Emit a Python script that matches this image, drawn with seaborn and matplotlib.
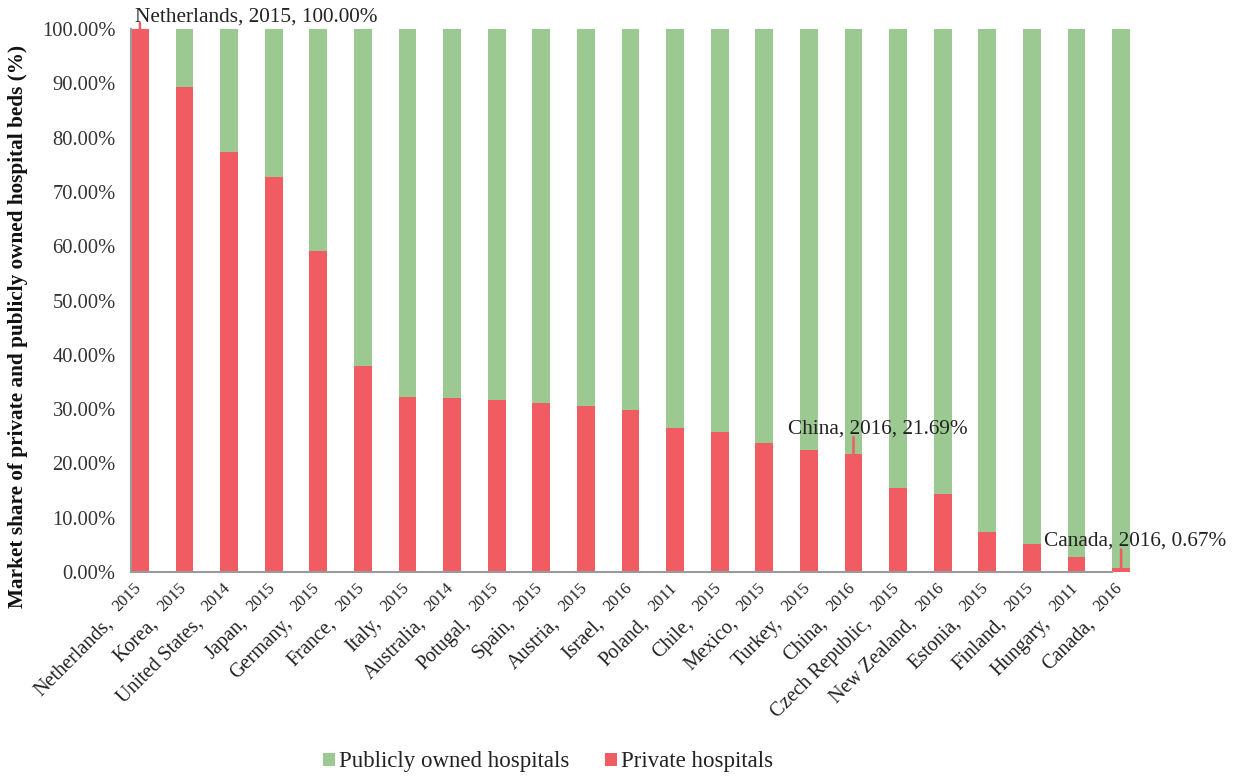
import matplotlib
matplotlib.use("Agg")
import matplotlib.pyplot as plt
from matplotlib.patches import Patch
import seaborn as sns
import pandas as pd

countries = ["Netherlands", "Korea", "United States", "Japan", "Germany", "France",
             "Italy", "Australia", "Potugal", "Spain", "Austria", "Israel", "Poland",
             "Chile", "Mexico", "Turkey", "China", "Czech Republic", "New Zealand",
             "Estonia", "Finland", "Hungary", "Canada"]
years = ["2015", "2015", "2014", "2015", "2015", "2015", "2015", "2014", "2015", "2015",
         "2015", "2016", "2011", "2015", "2015", "2015", "2016", "2015", "2016", "2015",
         "2015", "2011", "2016"]
private = [100.00, 89.4, 77.4, 72.8, 59.2, 37.9, 32.2, 32.0, 31.6, 31.2, 30.6, 29.8,
           26.6, 25.7, 23.7, 22.4, 21.69, 15.4, 14.3, 7.3, 5.2, 2.8, 0.67]
public = [0.00, 10.6, 22.6, 27.2, 40.8, 62.1, 67.8, 68.0, 68.4, 68.8, 69.4, 70.2,
          73.4, 74.3, 76.3, 77.6, 78.31, 84.6, 85.7, 92.7, 94.8, 97.2, 99.33]
yticks = [0, 10, 20, 30, 40, 50, 60, 70, 80, 90, 100]
# bars that carry a value label
labelled = [0, 16, 22]

GREEN = "#9bc991"
RED = "#f15c62"
GRAY = "#9a9a9a"

sns.set_style("white")
plt.rcParams["font.family"] = ["Liberation Serif", "DejaVu Serif"]

df = pd.DataFrame({"key": [f"{c}, {y}" for c, y in zip(countries, years)],
                   "private": private, "public": public})
df["total"] = df["private"] + df["public"]

fig = plt.figure(figsize=(12.35, 7.77), dpi=100)
ax = fig.add_axes([131 / 1235, 1 - 572 / 777, 22.5 * 44.6 / 1235, (572 - 29) / 777])

sns.barplot(data=df, x="key", y="total", color=GREEN, width=0.4, saturation=1,
            ax=ax, edgecolor="none")
sns.barplot(data=df, x="key", y="private", color=RED, width=0.4, saturation=1,
            ax=ax, edgecolor="none")

n = len(df)
ax.set_xlim(-0.2, 22.3)
ax.set_ylim(0, 100)
ax.set_yticks(yticks)
ax.set_yticklabels([f"{v:.2f}%" for v in yticks], fontsize=14.8, color="#333333")
ax.set_xticks([i - 0.2 for i in range(n)])
ax.set_xticklabels([])
ax.set_xlabel("")
ax.set_ylabel("")
ax.tick_params(axis="both", color=GRAY, length=6, width=1.2)
ax.tick_params(axis="y", pad=5)
for side in ["top", "right"]:
    ax.spines[side].set_visible(False)
for side in ["left", "bottom"]:
    ax.spines[side].set_color(GRAY)
    ax.spines[side].set_linewidth(1.5)
ax.spines["bottom"].set_bounds(-0.2, n - 1 - 0.2)

# rotated tick labels: country and smaller year
for i in range(n):
    ax.annotate(years[i], xy=(i - 0.2, 0), xycoords=("data", "axes fraction"),
                xytext=(7.7, -12.2), textcoords="offset points", rotation=45,
                rotation_mode="anchor", ha="right", va="baseline",
                fontsize=12, color="#222222", annotation_clip=False)
    ax.annotate(countries[i] + ",", xy=(i - 0.2, 0), xycoords=("data", "axes fraction"),
                xytext=(-12.5, -37.4), textcoords="offset points", rotation=45,
                rotation_mode="anchor", ha="right", va="baseline",
                fontsize=14.5, color="#222222", annotation_clip=False)

# value labels with leader lines (dx, dy, line length in px)
offsets = {0: (-5, 7, 6), 16: (-66, 21, 17), 22: (-77, 23, 19)}
for i in labelled:
    dx, dy, ln = offsets[i]
    ax.annotate("", xy=(i, private[i]), xytext=(0, ln * 0.72), textcoords="offset points",
                arrowprops=dict(arrowstyle="-", color=RED, lw=1.8, shrinkA=0, shrinkB=0),
                annotation_clip=False)
    ax.annotate(f"{countries[i]}, {years[i]}, {private[i]:.2f}%", xy=(i, private[i]),
                xytext=(dx * 0.72, dy * 0.72), textcoords="offset points",
                ha="left", va="baseline", fontsize=15.3, color="#222222",
                annotation_clip=False)

fig.text(18 / 1235, 1 - 327 / 777,
         "Market share of private and publicly owned hospital beds (%)",
         rotation=90, ha="center", va="center", fontsize=15.3, fontweight="bold",
         color="#111111")

handles = [Patch(facecolor=GREEN, edgecolor="none", label="Publicly owned hospitals"),
           Patch(facecolor=RED, edgecolor="none", label="Private hospitals")]
fig.legend(handles=handles, loc="center", bbox_to_anchor=(548 / 1235, 1 - 762 / 777),
           ncol=2, frameon=False, fontsize=16.5, handlelength=0.52, handleheight=0.52,
           handletextpad=0.18, columnspacing=1.55, labelcolor="#222222")

fig.savefig("out.png", dpi=100)
